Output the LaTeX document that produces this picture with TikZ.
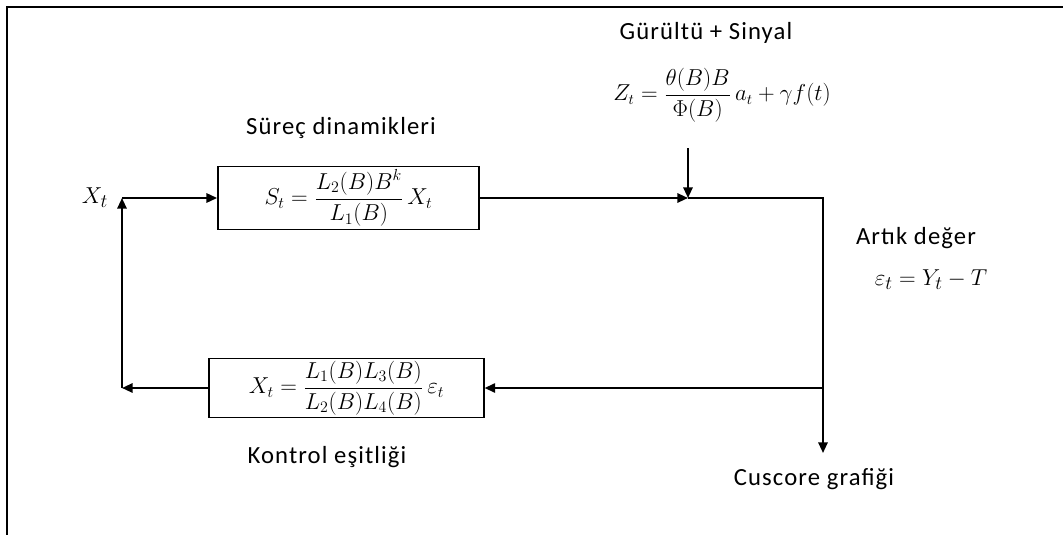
\documentclass[tikz,border=0pt]{standalone}
\usepackage{fontspec}
\setmainfont{Carlito}
\usetikzlibrary{arrows.meta}

\begin{document}
\begin{tikzpicture}[x=0.75pt,y=-0.75pt,
  blk/.style={draw=black, line width=1.1pt, inner sep=0pt, font=\fontsize{18.5}{22}\selectfont},
  lbl/.style={font=\fontsize{18.5}{22}\selectfont\addfontfeatures{LetterSpace=4.5}},
  eqn/.style={font=\fontsize{17}{20}\selectfont},
  ln/.style={line width=1.5pt},
  arr/.style={line width=1.5pt, -{Triangle[length=8pt,width=7pt]}}]
\useasboundingbox (0,0) rectangle (1063,535);
% frame
\draw [line width=2.2pt] (7,535) -- (7,7) -- (1063,7);
% blocks
\node [blk, minimum width=196pt, minimum height=47pt] (dyn) at (348.5,198) {$\displaystyle S_t=\frac{L_2(B)B^k}{L_1(B)}\,X_t$};
\node [blk, minimum width=206pt, minimum height=44pt] (ctl) at (346.5,388) {$\displaystyle X_t=\frac{L_1(B)L_3(B)}{L_2(B)L_4(B)}\,\varepsilon_t$};
\node [eqn, font=\fontsize{19}{22}\selectfont] (xt) at (95,198) {$X_t$};
% labels
\node [lbl] (gsl) at (706,33) {Gürültü + Sinyal};
\node [eqn, font=\fontsize{16}{19}\selectfont] (zt) at (722,95) {$\displaystyle Z_t=\frac{\theta(B)B}{\Phi(B)}\,a_t+\gamma f(t)$};
\node [lbl] (sdl) at (341,128) {Süreç dinamikleri};
\node [lbl] (adl) at (916,238) {Artık değer};
\node [eqn, font=\fontsize{19}{22}\selectfont] (eps) at (931,280) {$\varepsilon_t=Y_t-T$};
\node [lbl] (kel) at (327,457) {Kontrol eşitliği};
\node [lbl] (cgl) at (814,479) {Cuscore grafiği};
% corners of the loop
\coordinate (up) at (122,198);
\coordinate (dn) at (122,388);
\coordinate (sum) at (688,198);
\coordinate (noise) at (688,148);
\coordinate (cor) at (823,198);
\coordinate (split) at (823,388);
\coordinate (out) at (823,453);
% connectors
\draw [arr] (dn) -- (up);
\draw [arr] (up) -- (dyn.west);
\draw [arr] (dyn.east) -- (sum);
\draw [arr] (noise) -- (sum);
\draw [ln] (sum) -- (cor) -- (split);
\draw [arr] (split) -- (out);
\draw [arr] (split) -- (ctl.east);
\draw [arr] (ctl.west) -- (dn);
\end{tikzpicture}
\end{document}
